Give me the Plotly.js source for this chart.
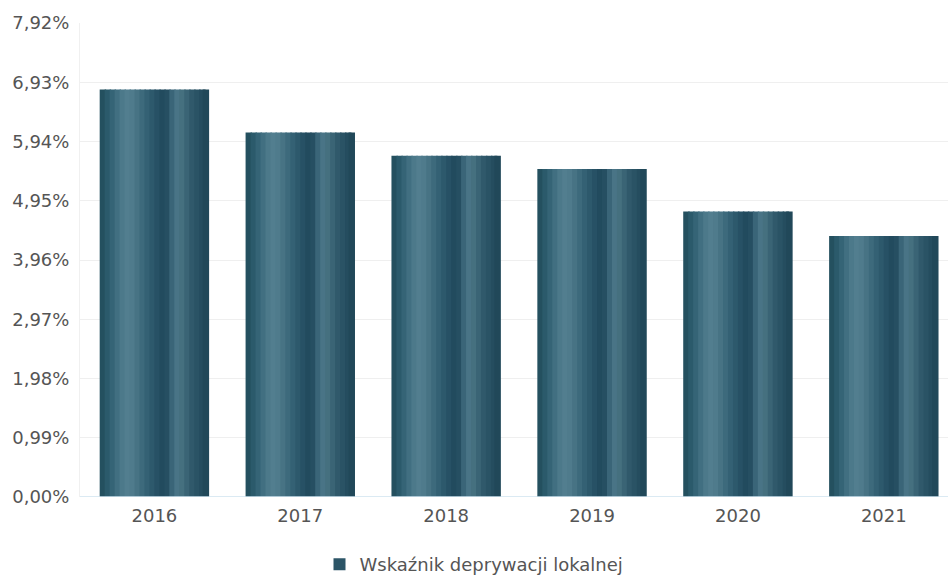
<!DOCTYPE html>
<html><head><meta charset="utf-8">
<script src="https://cdn.plot.ly/plotly-3.0.1.min.js"></script>
<style>html,body{margin:0;padding:0;background:#fff}</style>
</head><body><div id="chart" style="width:948px;height:575px"></div>
<script>
const years = ['2016','2017','2018','2019','2020','2021'];
const values = [6.81, 6.09, 5.70, 5.48, 4.77, 4.36];
const seriesName = 'Wskaźnik deprywacji lokalnej';
const yTickVals = [0, 0.99, 1.98, 2.97, 3.96, 4.95, 5.94, 6.93, 7.92];
const yTickText = ['0,00%','0,99%','1,98%','2,97%','3,96%','4,95%','5,94%','6,93%','7,92%'];

// cylinder-like shading across each bar (left -> right)
const shade = ['#24505f','#2b5a6b','#356476','#416f81','#4c798a','#527e8f','#4f7b8c','#477384',
               '#3d6a7c','#346174','#2d596c','#275165','#224b5e','#264f62','#3a6578','#497486',
               '#45707f','#3a6475','#30596b','#2a5365','#254d5f','#214859'];
const barWidth = 0.75;
const n = shade.length;
const w = barWidth / n;
const traces = shade.map((c, i) => ({
  type: 'bar', x: years, y: values,
  width: w + 0.01, offset: -barWidth/2 + i*w - (i === n-1 ? 0.01 : 0),
  marker: {color: c, line: {width: 0}},
  hoverinfo: 'skip', showlegend: false, name: seriesName
}));
traces.push({
  type: 'bar', x: [null], y: [null], name: seriesName, showlegend: true,
  marker: {color: '#2c5567', line: {width: 0}}
});

const layout = {
  width: 948, height: 575,
  margin: {l: 80, r: 0, t: 23, b: 78},
  paper_bgcolor: '#fff', plot_bgcolor: '#fff',
  barmode: 'overlay',
  font: {family: 'DejaVu Sans, sans-serif', size: 18, color: '#555'},
  xaxis: {
    type: 'category', range: [-0.51, 5.44],
    showgrid: false, showline: false, zeroline: false,
    ticks: '', ticklabelstandoff: 6, tickfont: {size: 18, color: '#555'}
  },
  yaxis: {
    range: [0, 7.92], tickvals: yTickVals, ticktext: yTickText,
    showgrid: true, gridcolor: '#efefef', gridwidth: 1,
    zeroline: false, showline: true, linecolor: '#f0f0f0', linewidth: 1,
    ticks: '', ticklen: 0, ticklabelstandoff: 6, tickfont: {size: 18, color: '#555'}
  },
  shapes: [{type: 'line', xref: 'paper', yref: 'y', x0: 0, x1: 1, y0: 0, y1: 0,
            line: {color: '#cfe3ef', width: 1.5}}],
  showlegend: true,
  legend: {orientation: 'h', xref: 'container', yref: 'container', x: 0.5, xanchor: 'center',
           y: 0.018, yanchor: 'middle', font: {size: 18, color: '#555'}, itemwidth: 30}
};
Plotly.newPlot('chart', traces, layout, {displayModeBar: false, staticPlot: true});
</script></body></html>
